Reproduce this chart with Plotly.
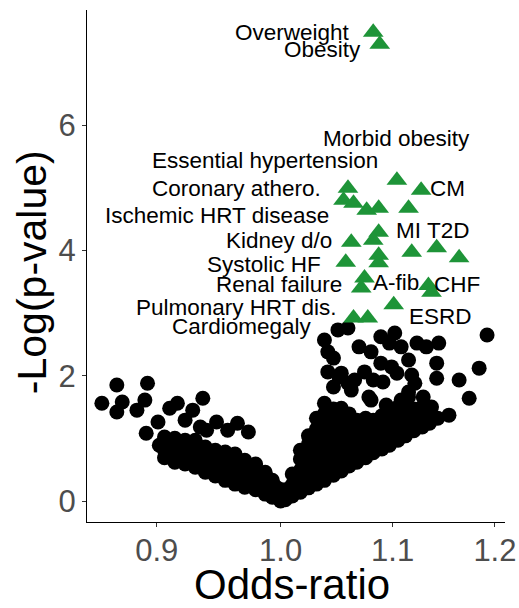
import numpy as np
import plotly.graph_objects as go

# ---------------- data ----------------
# non-significant phenotypes (black points): left arm, scattered
left_scatter_or = [0.870, 0.893, 0.859, 0.874, 0.870, 0.891, 0.885, 0.892, 0.901, 0.910,
                   0.916, 0.936, 0.928, 0.934, 0.922, 0.947, 0.964, 0.973, 0.956, 0.939]
left_scatter_logp = [1.85, 1.88, 1.56, 1.58, 1.42, 1.61, 1.45, 1.08, 1.26, 1.48,
                     1.56, 1.64, 1.45, 1.18, 1.29, 1.26, 1.24, 1.10, 1.13, 1.13]

# left arm, dense band
left_band_or = [0.906, 0.906, 0.906, 0.914, 0.914, 0.914, 0.922, 0.922, 0.922,
                0.930, 0.930, 0.930, 0.938, 0.938, 0.938, 0.946, 0.946, 0.946,
                0.954, 0.954, 0.954, 0.962, 0.962, 0.962, 0.970, 0.970, 0.970,
                0.979, 0.979, 0.979, 0.987, 0.987, 0.987, 0.993, 0.993, 0.993,
                1.000, 1.000,
                0.902, 0.910, 0.910, 0.918, 0.918, 0.926, 0.926, 0.934, 0.934,
                0.942, 0.942, 0.950, 0.950, 0.958, 0.958, 0.966, 0.966,
                0.975, 0.975, 0.983, 0.983, 0.990, 0.990, 0.997, 0.997]
left_band_logp = [1.02, 0.81, 0.69, 1.00, 0.81, 0.62, 0.97, 0.78, 0.59,
                  0.97, 0.73, 0.54, 0.86, 0.65, 0.46, 0.81, 0.62, 0.40,
                  0.78, 0.57, 0.33, 0.75, 0.53, 0.27, 0.65, 0.45, 0.22,
                  0.59, 0.37, 0.18, 0.46, 0.27, 0.11, 0.33, 0.14, 0.06,
                  0.18, 0.00,
                  0.89, 0.91, 0.72, 0.89, 0.70, 0.86, 0.65, 0.78, 0.56,
                  0.72, 0.53, 0.69, 0.46, 0.64, 0.40, 0.56, 0.37,
                  0.49, 0.27, 0.40, 0.21, 0.30, 0.11, 0.21, 0.06]

# right arm, dense wedge
right_band_or = [1.004, 1.004,
                 1.010, 1.010, 1.010,
                 1.017, 1.017, 1.017, 1.017, 1.017,
                 1.024, 1.024, 1.024, 1.024, 1.024, 1.024,
                 1.031, 1.031, 1.031, 1.031, 1.031, 1.031, 1.031,
                 1.038, 1.038, 1.038, 1.038, 1.038, 1.038, 1.038, 1.038,
                 1.046, 1.046, 1.046, 1.046, 1.046, 1.046, 1.046,
                 1.053, 1.053, 1.053, 1.053, 1.053, 1.053, 1.053,
                 1.060, 1.060, 1.060, 1.060, 1.060, 1.060,
                 1.067, 1.067, 1.067, 1.067, 1.067,
                 1.075, 1.075, 1.075, 1.075, 1.075,
                 1.082, 1.082, 1.082, 1.082,
                 1.090, 1.090, 1.090, 1.090,
                 1.097, 1.097, 1.097, 1.097,
                 1.105, 1.105, 1.105, 1.105,
                 1.112, 1.112, 1.112, 1.112,
                 1.120, 1.120, 1.120,
                 1.128, 1.128, 1.128,
                 1.135, 1.135,
                 1.143]
right_band_logp = [0.02, 0.18,
                   0.08, 0.26, 0.43,
                   0.14, 0.32, 0.49, 0.67, 0.81,
                   0.21, 0.38, 0.56, 0.73, 0.91, 1.04,
                   0.27, 0.45, 0.62, 0.80, 0.97, 1.15, 1.32,
                   0.33, 0.51, 0.69, 0.86, 1.04, 1.21, 1.39, 1.56,
                   0.41, 0.59, 0.77, 0.94, 1.12, 1.29, 1.47,
                   0.48, 0.65, 0.83, 1.00, 1.18, 1.36, 1.48,
                   0.56, 0.73, 0.91, 1.08, 1.26, 1.39,
                   0.62, 0.80, 0.97, 1.15, 1.29,
                   0.69, 0.86, 1.04, 1.21, 1.32,
                   0.77, 0.94, 1.12, 1.29,
                   0.83, 1.00, 1.18, 1.36,
                   0.89, 1.07, 1.24, 1.42,
                   0.97, 1.15, 1.32, 1.50,
                   1.04, 1.21, 1.39, 1.53,
                   1.12, 1.29, 1.47,
                   1.18, 1.36, 1.50,
                   1.24, 1.42,
                   1.32]

# right arm, scattered
right_scatter_or = [1.192, 1.184, 1.174, 1.164, 1.154, 1.142, 1.142, 1.144, 1.132, 1.123,
                    1.102, 1.089, 1.108, 1.115, 1.118, 1.115, 1.121, 1.129, 1.137, 1.069,
                    1.080, 1.089, 1.099, 1.074, 1.082, 1.078, 1.094, 1.091, 1.038, 1.041,
                    1.041, 1.051, 1.046, 1.059, 1.050, 1.059, 1.046, 1.053, 1.097, 1.104,
                    1.115, 1.108, 1.080, 1.062, 1.065]
right_scatter_logp = [2.65, 2.12, 1.64, 1.93, 1.37, 2.20, 1.96, 2.52, 2.46, 2.52,
                      2.68, 2.62, 2.46, 2.25, 2.01, 1.66, 1.88, 1.66, 1.50, 2.46,
                      2.38, 2.20, 2.14, 2.06, 1.93, 1.66, 1.53, 1.90, 2.57, 2.38,
                      2.06, 1.98, 1.82, 1.88, 2.73, 2.76, 2.28, 2.04, 2.52, 2.04,
                      1.74, 1.61, 1.61, 1.77, 1.93]

# significant phenotypes (green triangles)
sig_or = [1.082, 1.088, 1.104, 1.127, 1.059, 1.055, 1.064, 1.076, 1.087, 1.115,
          1.087, 1.062, 1.082, 1.118, 1.142, 1.164, 1.057, 1.087, 1.087, 1.074,
          1.071, 1.134, 1.137, 1.101, 1.064, 1.077]
sig_logp = [7.48, 7.29, 5.12, 4.96, 4.99, 4.80, 4.75, 4.64, 4.67, 4.67,
            4.29, 4.13, 4.16, 3.97, 4.04, 3.88, 3.81, 3.92, 3.80, 3.56,
            3.40, 3.44, 3.33, 3.13, 2.92, 2.92]

# phenotype labels
label_text = ["Overweight", "Obesity", "Morbid obesity", "Essential hypertension",
              "Coronary athero.", "CM", "Ischemic HRT disease", "MI", "T2D",
              "Kidney d/o", "Systolic HF", "Renal failure", "A-fib", "CHF",
              "Pulmonary HRT dis.", "ESRD", "Cardiomegaly"]

x_tick_vals = [0.9, 1.0, 1.1, 1.2]
x_tick_text = ["0.9", "1.0", "1.1", "1.2"]
y_tick_vals = [0, 2, 4, 6]
x_title = "Odds-ratio"
y_title = "-Log(p-value)"

# ---------------- label placement (repelled text positions, data units) ----------------
label_pos_or = [1.0106, 1.036, 1.104, 0.987, 0.9636, 1.153, 0.9474, 1.115, 1.154,
                0.9986, 0.986, 0.9986, 1.103, 1.162, 0.9636, 1.146, 0.9677]
label_pos_logp = [7.48, 7.20, 5.79, 5.44, 4.99, 4.98, 4.56, 4.32, 4.32,
                  4.16, 3.77, 3.45, 3.49, 3.45, 3.08, 2.94, 2.78]

FONT = "Liberation Sans, Arial, sans-serif"

bg_or = left_scatter_or + left_band_or + right_band_or + right_scatter_or
bg_logp = left_scatter_logp + left_band_logp + right_band_logp + right_scatter_logp

fig = go.Figure()
fig.add_trace(go.Scatter(
    x=bg_or, y=bg_logp, mode="markers",
    marker=dict(symbol="circle", size=15, color="black", line=dict(width=0)),
    hoverinfo="skip", showlegend=False))
fig.add_trace(go.Scatter(
    x=sig_or, y=sig_logp, mode="markers",
    marker=dict(symbol="triangle-up", size=18, color="#1E9438", line=dict(width=0)),
    showlegend=False))

for t, xo, yo in zip(label_text, label_pos_or, label_pos_logp):
    fig.add_annotation(x=np.log10(xo), y=yo, xref="x", yref="y", text=t,
                       showarrow=False, xanchor="center", yanchor="middle",
                       font=dict(family=FONT, size=22.5, color="black"))

# axis titles
fig.add_annotation(x=0.49, y=-0.122, xref="paper", yref="paper", text=x_title,
                   showarrow=False, xanchor="center", yanchor="middle",
                   font=dict(family=FONT, size=42, color="black"))
fig.add_annotation(x=-0.1316, y=0.488, xref="paper", yref="paper", text=y_title,
                   showarrow=False, xanchor="center", yanchor="middle", textangle=-90,
                   font=dict(family=FONT, size=41, color="black"))

fig.update_layout(
    width=519, height=608,
    margin=dict(l=87, r=14, t=10, b=86),
    plot_bgcolor="white", paper_bgcolor="white",
    font=dict(family=FONT),
    xaxis=dict(
        type="log", range=[-0.0715, 0.0829], automargin=False,
        tickvals=x_tick_vals, ticktext=x_tick_text,
        tickfont=dict(family=FONT, size=31, color="#4D4D4D"),
        ticks="outside", ticklen=4, tickcolor="#333333", tickwidth=1,
        ticklabelstandoff=-3,
        showline=True, linecolor="black", linewidth=1.3,
        showgrid=False, zeroline=False,
    ),
    yaxis=dict(
        range=[-0.335, 7.835], automargin=False,
        tickvals=y_tick_vals,
        tickfont=dict(family=FONT, size=31, color="#4D4D4D"),
        ticks="outside", ticklen=4, tickcolor="#333333", tickwidth=1,
        showline=True, linecolor="black", linewidth=1.3,
        showgrid=False, zeroline=False,
    ),
)

fig.write_html(
    "out.html",
    config={"displayModeBar": False},
    post_script="document.body.style.margin='0';document.body.style.padding='0';"
                "document.body.style.overflow='hidden';",
)
